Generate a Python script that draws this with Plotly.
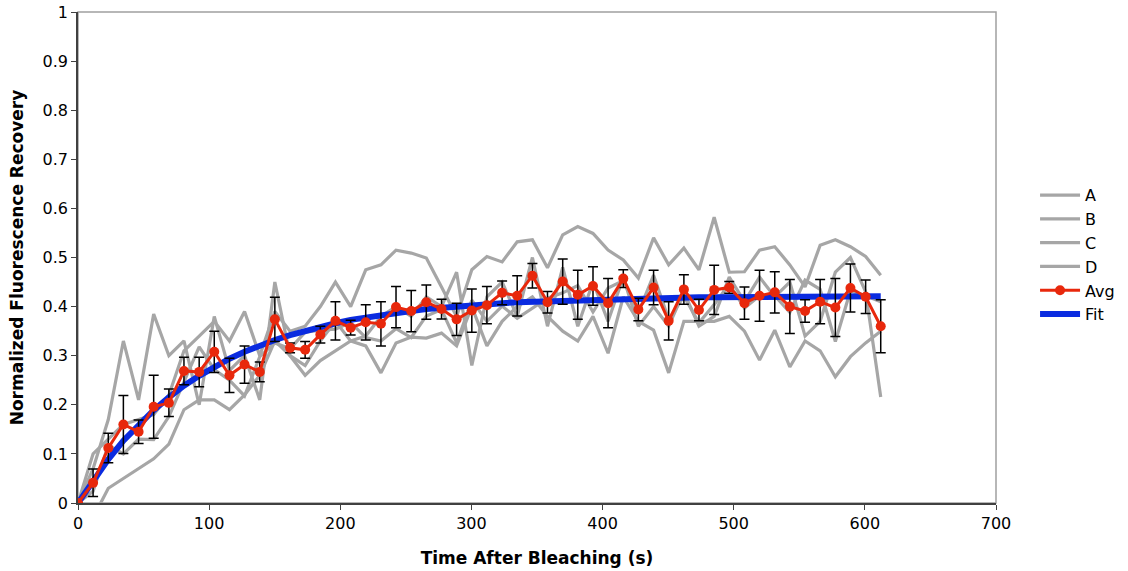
import plotly.graph_objects as go

# ---------------- data ----------------
time_s = [0, 11.5, 23.1, 34.6, 46.2, 57.7, 69.3, 80.8, 92.4, 103.9,
          115.5, 127.0, 138.6, 150.1, 161.7, 173.2, 184.8, 196.3, 207.9, 219.4,
          231.0, 242.5, 254.1, 265.6, 277.2, 288.7, 300.3, 311.8, 323.4, 334.9,
          346.5, 358.0, 369.6, 381.1, 392.7, 404.2, 415.8, 427.3, 438.9, 450.4,
          462.0, 473.5, 485.1, 496.6, 508.2, 519.7, 531.3, 542.8, 554.4, 565.9,
          577.5, 589.0, 600.6, 612.1]

series_a = [0, 0.10, 0.13, 0.16, 0.17, 0.18, 0.22, 0.31, 0.34, 0.37,
            0.33, 0.39, 0.30, 0.39, 0.35, 0.36, 0.40, 0.45, 0.40, 0.475,
            0.485, 0.515, 0.509, 0.499, 0.44, 0.38, 0.475, 0.502, 0.491, 0.532,
            0.536, 0.479, 0.546, 0.563, 0.549, 0.515, 0.495, 0.458, 0.54, 0.485,
            0.519, 0.475, 0.582, 0.47, 0.471, 0.515, 0.522, 0.485, 0.44, 0.525,
            0.536, 0.522, 0.502, 0.464]
series_b = [0, 0.07, 0.17, 0.33, 0.21, 0.385, 0.30, 0.33, 0.20, 0.38,
            0.27, 0.30, 0.21, 0.45, 0.30, 0.28, 0.33, 0.37, 0.33, 0.34,
            0.38, 0.40, 0.38, 0.42, 0.40, 0.47, 0.28, 0.42, 0.45, 0.38,
            0.50, 0.36, 0.48, 0.36, 0.45, 0.37, 0.46, 0.36, 0.40, 0.36,
            0.43, 0.36, 0.38, 0.46, 0.41, 0.46, 0.42, 0.45, 0.34, 0.37,
            0.47, 0.50, 0.43, 0.216]
series_c = [0, -0.03, 0.03, 0.05, 0.07, 0.09, 0.12, 0.19, 0.21, 0.21,
            0.19, 0.22, 0.26, 0.33, 0.30, 0.26, 0.29, 0.31, 0.33, 0.32,
            0.265, 0.326, 0.338, 0.336, 0.346, 0.32, 0.40, 0.32, 0.37, 0.40,
            0.42, 0.38, 0.35, 0.33, 0.38, 0.305, 0.42, 0.37, 0.352, 0.265,
            0.37, 0.37, 0.37, 0.38, 0.35, 0.291, 0.352, 0.277, 0.33, 0.31,
            0.257, 0.298, 0.326, 0.35]
series_d = [0, 0.024, 0.118, 0.10, 0.13, 0.129, 0.176, 0.246, 0.318, 0.272,
            0.25, 0.218, 0.298, 0.326, 0.314, 0.348, 0.352, 0.354, 0.368, 0.337,
            0.33, 0.355, 0.337, 0.381, 0.394, 0.326, 0.413, 0.37, 0.401, 0.376,
            0.396, 0.417, 0.428, 0.443, 0.389, 0.438, 0.453, 0.388, 0.464, 0.374,
            0.421, 0.367, 0.404, 0.446, 0.397, 0.422, 0.422, 0.388, 0.454, 0.435,
            0.329, 0.432, 0.422, 0.41]

avg = [0, 0.041, 0.112, 0.160, 0.145, 0.196, 0.204, 0.269, 0.267, 0.308,
       0.260, 0.282, 0.267, 0.374, 0.316, 0.312, 0.343, 0.371, 0.357, 0.368,
       0.365, 0.399, 0.391, 0.409, 0.395, 0.374, 0.392, 0.403, 0.428, 0.422,
       0.463, 0.409, 0.451, 0.424, 0.442, 0.407, 0.457, 0.394, 0.439, 0.371,
       0.435, 0.393, 0.434, 0.439, 0.407, 0.422, 0.429, 0.400, 0.391, 0.410,
       0.398, 0.438, 0.420, 0.360]
avg_err = [0, 0.028, 0.030, 0.059, 0.024, 0.064, 0.028, 0.028, 0.030, 0.042,
           0.035, 0.038, 0.020, 0.045, 0.010, 0.017, 0.017, 0.039, 0.015, 0.036,
           0.045, 0.042, 0.042, 0.035, 0.020, 0.033, 0.044, 0.038, 0.024, 0.041,
           0.025, 0.022, 0.046, 0.050, 0.039, 0.050, 0.018, 0.023, 0.035, 0.039,
           0.030, 0.022, 0.050, 0.012, 0.033, 0.052, 0.042, 0.055, 0.023, 0.045,
           0.059, 0.049, 0.034, 0.054]
fit = [0, 0.047, 0.089, 0.127, 0.160, 0.189, 0.215, 0.239, 0.259, 0.278,
       0.294, 0.308, 0.321, 0.332, 0.342, 0.351, 0.359, 0.366, 0.373, 0.378,
       0.383, 0.387, 0.391, 0.395, 0.398, 0.401, 0.403, 0.405, 0.407, 0.409,
       0.410, 0.411, 0.413, 0.414, 0.415, 0.415, 0.416, 0.417, 0.417, 0.418,
       0.418, 0.419, 0.419, 0.419, 0.420, 0.420, 0.420, 0.420, 0.420, 0.421,
       0.421, 0.421, 0.421, 0.421]

series_names = ["A", "B", "C", "D"]
x_ticks = [0, 100, 200, 300, 400, 500, 600, 700]

# ---------------- figure ----------------
FONT = "DejaVu Sans, Verdana, sans-serif"
GREY = "#a6a6a6"

fig = go.Figure()
for rank, (name, ys) in enumerate(zip(series_names, [series_a, series_b, series_c, series_d])):
    fig.add_trace(go.Scatter(x=time_s, y=ys, name=name, mode="lines",
                             line=dict(color=GREY, width=3.2), legendrank=rank + 1,
                             legendgroup=name))

fig.add_trace(go.Scatter(x=time_s, y=fit, name="Fit", mode="lines",
                         line=dict(color="#0a2be0", width=6), legendrank=6,
                         legendgroup="Fit"))

fig.add_trace(go.Scatter(x=time_s, y=avg, name="Avg", mode="lines+markers",
                         line=dict(color="#e8280c", width=3),
                         marker=dict(color="#e8280c", size=10),
                         error_y=dict(type="data", array=avg_err, visible=True,
                                      color="black", thickness=1.5, width=5),
                         legendrank=5, legendgroup="Avg"))

fig.update_layout(
    width=1128, height=571,
    margin=dict(l=78, r=132, t=12, b=68),
    paper_bgcolor="white", plot_bgcolor="white",
    font=dict(family=FONT, size=16, color="black"),
    showlegend=True,
    legend=dict(xref="container", yref="container", x=0.9176, y=0.688,
                xanchor="left", yanchor="top",
                font=dict(family=FONT, size=16, color="black"),
                tracegroupgap=0, itemwidth=40, bgcolor="rgba(0,0,0,0)"),
    xaxis=dict(range=[0, 700], tickvals=x_ticks, ticks="outside", ticklen=5,
               tickcolor="#404040", showline=True, linecolor="#404040", linewidth=1.5,
               showgrid=False, zeroline=False, automargin=False,
               tickfont=dict(family=FONT, size=16),
               title=dict(text="<b>Time After Bleaching (s)</b>",
                          font=dict(family=FONT, size=17), standoff=20)),
    yaxis=dict(range=[0, 1], dtick=0.1, ticks="outside", ticklen=5,
               tickcolor="#404040", showline=True, linecolor="#404040", linewidth=1.5,
               showgrid=False, zeroline=False, automargin=False,
               tickfont=dict(family=FONT, size=16),
               title=dict(text="<b>Normalized Fluorescence Recovery</b>",
                          font=dict(family=FONT, size=17), standoff=15)),
)

# light grey plot-area frame (top and right)
fig.add_shape(type="rect", xref="paper", yref="paper", x0=0, y0=0, x1=1, y1=1,
              line=dict(color="#a0a0a0", width=1.5), layer="below")

fig.write_html("out.html", config={"displayModeBar": False},
               post_script="document.body.style.margin='0px';")
